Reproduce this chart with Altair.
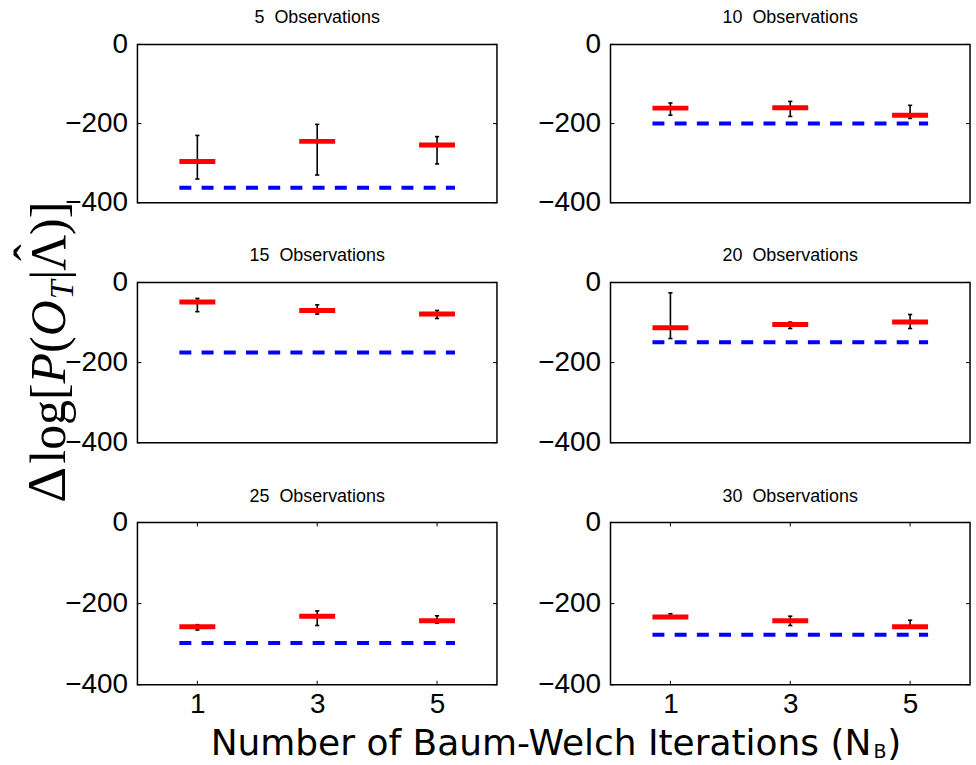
import altair as alt
import pandas as pd

# Observation counts (one panel each) and Baum-Welch iteration counts (x positions)
observations = [5, 10, 15, 20, 25, 30]
iterations = [1, 3, 5]

# Mean log-likelihood difference per iteration count (red bars)
mean_ll = [
    [-296, -245, -254],
    [-161, -160, -179],
    [-49, -70, -79],
    [-113, -105, -99],
    [-257, -231, -242],
    [-233, -242, -257],
]
# Error bar lower / upper ends
err_lo = [
    [-340, -330, -302],
    [-179, -182, -187],
    [-73, -79, -90],
    [-140, -115, -115],
    [-265, -254, -248],
    [-236, -254, -260],
]
err_hi = [
    [-230, -202, -233],
    [-148, -144, -154],
    [-40, -56, -70],
    [-26, -99, -80],
    [-252, -218, -230],
    [-225, -231, -241],
]
# Reference level for each panel (blue dashed line)
reference_ll = [-362, -200, -175, -149, -297, -277]

y_ticks = [0, -200, -400]
x_ticks = [1, 3, 5]

PANEL_W = 361
ROW_H = [159, 161, 163]
BAR_HALF = 0.3
CAP_HALF = 0.035

xscale = alt.Scale(domain=[0, 6], nice=False, zero=False)
yscale = alt.Scale(domain=[-400, 0], nice=False, zero=False)

yaxis = alt.Axis(values=y_ticks, ticks=False, domain=False, grid=False,
                 labelFont="Liberation Sans", labelFontSize=28, labelColor="black",
                 labelPadding=10, labelOverlap=False, title=None)


def xaxis_for(bottom):
    if not bottom:
        return None
    return alt.Axis(values=x_ticks, ticks=False, domain=False, grid=False,
                    labelFont="Liberation Sans", labelFontSize=28, labelColor="black",
                    labelPadding=6, labelOverlap=False, labelFlush=False, title=None)


def panel(i, h, bottom, extras=()):
    xa = xaxis_for(bottom)

    def X(field):
        return alt.X(field, type="quantitative", scale=xscale, axis=xa)

    def Y(field):
        return alt.Y(field, type="quantitative", scale=yscale, axis=yaxis)

    df = pd.DataFrame({
        "iter": iterations,
        "mean": mean_ll[i],
        "lo": err_lo[i],
        "hi": err_hi[i],
    })
    ref = pd.DataFrame({
        "x0": [min(iterations) - BAR_HALF],
        "x1": [max(iterations) + BAR_HALF],
        "y": [reference_ll[i]],
    })
    yt = pd.DataFrame({"v": y_ticks})

    base = alt.Chart(df)

    ref_line = alt.Chart(ref).mark_rule(
        color="#0000ff", strokeWidth=4, strokeDash=[12, 10.3]
    ).encode(x=X("x0"), x2="x1", y=Y("y"))

    whisker = base.mark_rule(color="black", strokeWidth=1.6).encode(
        x=X("iter"), y=Y("lo"), y2="hi")
    caps_lo = base.transform_calculate(
        c0=f"datum.iter - {CAP_HALF}", c1=f"datum.iter + {CAP_HALF}"
    ).mark_rule(color="black", strokeWidth=1.6).encode(x=X("c0"), x2="c1", y=Y("lo"))
    caps_hi = base.transform_calculate(
        c0=f"datum.iter - {CAP_HALF}", c1=f"datum.iter + {CAP_HALF}"
    ).mark_rule(color="black", strokeWidth=1.6).encode(x=X("c0"), x2="c1", y=Y("hi"))

    bars = base.transform_calculate(
        b0=f"datum.iter - {BAR_HALF}", b1=f"datum.iter + {BAR_HALF}"
    ).mark_rule(color="#ff0000", strokeWidth=5).encode(x=X("b0"), x2="b1", y=Y("mean"))

    # inward tick marks on both vertical edges of the box
    tick_l = alt.Chart(yt).mark_rule(color="black", strokeWidth=1).encode(
        y=Y("v"), x=alt.value(0), x2=alt.value(4))
    tick_r = alt.Chart(yt).mark_rule(color="black", strokeWidth=1).encode(
        y=Y("v"), x=alt.value(PANEL_W - 4), x2=alt.value(PANEL_W))

    layers = [ref_line, whisker, caps_lo, caps_hi, bars, tick_l, tick_r]

    if bottom:
        xt = pd.DataFrame({"v": x_ticks})
        layers.append(alt.Chart(xt).mark_rule(color="black", strokeWidth=1).encode(
            x=X("v"), y=alt.value(h - 4), y2=alt.value(h)))
        layers.append(alt.Chart(xt).mark_rule(color="black", strokeWidth=1).encode(
            x=X("v"), y=alt.value(0), y2=alt.value(4)))

    layers.extend(extras)

    return alt.layer(*layers).properties(
        width=PANEL_W, height=h,
        title=alt.TitleParams(
            f"{observations[i]}\u00a0 Observations", font="Liberation Sans", fontSize=18,
            fontWeight="normal", color="black", frame="group", anchor="middle",
            baseline="alphabetic", offset=-11),
    )


# Shared y-axis label: Δ log[P(O_T | Λ̂)], assembled from pieces and rotated;
# positions are relative to the top-left panel's plot area.
def ylabel_piece(text, x, y, size=50, style="normal", align="left"):
    return alt.Chart(pd.DataFrame({"t": [text]})).mark_text(
        angle=270, align=align, baseline="alphabetic", font="Liberation Serif",
        fontSize=size, fontStyle=style, color="black",
    ).encode(text="t:N", x=alt.value(x), y=alt.value(y))


YB = -73  # baseline of the rotated label
ylabel = [
    ylabel_piece("Δ", YB, 460.3, size=56),
    ylabel_piece("log", YB, 421.0),
    ylabel_piece("[", YB, 357.1),
    ylabel_piece("P", YB, 340.4, style="italic"),
    ylabel_piece("(", YB, 309.8),
    ylabel_piece("O", YB, 293.1, style="italic"),
    ylabel_piece("T", YB + 8, 256.0, size=34, style="italic"),
    ylabel_piece("|", YB, 236.3),
    ylabel_piece("Λ", YB, 227.3),
    ylabel_piece("ˆ", YB - 16, 209.3, align="center"),
    ylabel_piece(")", YB, 191.3),
    ylabel_piece("]", YB, 174.6),
]


# Shared x-axis label: Number of Baum-Welch Iterations (N_B);
# positions are relative to the bottom-left panel's plot area.
def xlabel_piece(text, x, y, size=36.1, align="left"):
    return alt.Chart(pd.DataFrame({"t": [text]})).mark_text(
        align=align, baseline="alphabetic", font="DejaVu Sans",
        fontSize=size, color="black",
    ).encode(text="t:N", x=alt.value(x), y=alt.value(y))


xlabel = [
    xlabel_piece("Number of Baum-Welch Iterations (N", 737, 233.7, align="right"),
    xlabel_piece("B", 739, 237, size=19),
    xlabel_piece(")", 753, 233.7),
]

panels = []
for r in range(3):
    panels.append(panel(2 * r, ROW_H[r], r == 2,
                        extras=ylabel if r == 0 else (xlabel if r == 2 else ())))
    panels.append(panel(2 * r + 1, ROW_H[r], r == 2))

chart = alt.concat(
    *panels, columns=2, spacing={"row": 80, "column": 114}, bounds="flush"
).properties(
    padding={"left": 8, "top": 7, "right": 4, "bottom": 0},
    background="white",
).configure_view(
    stroke="black", strokeWidth=1.5,
)

chart.save("out.html", embed_options={"renderer": "svg", "actions": False})
